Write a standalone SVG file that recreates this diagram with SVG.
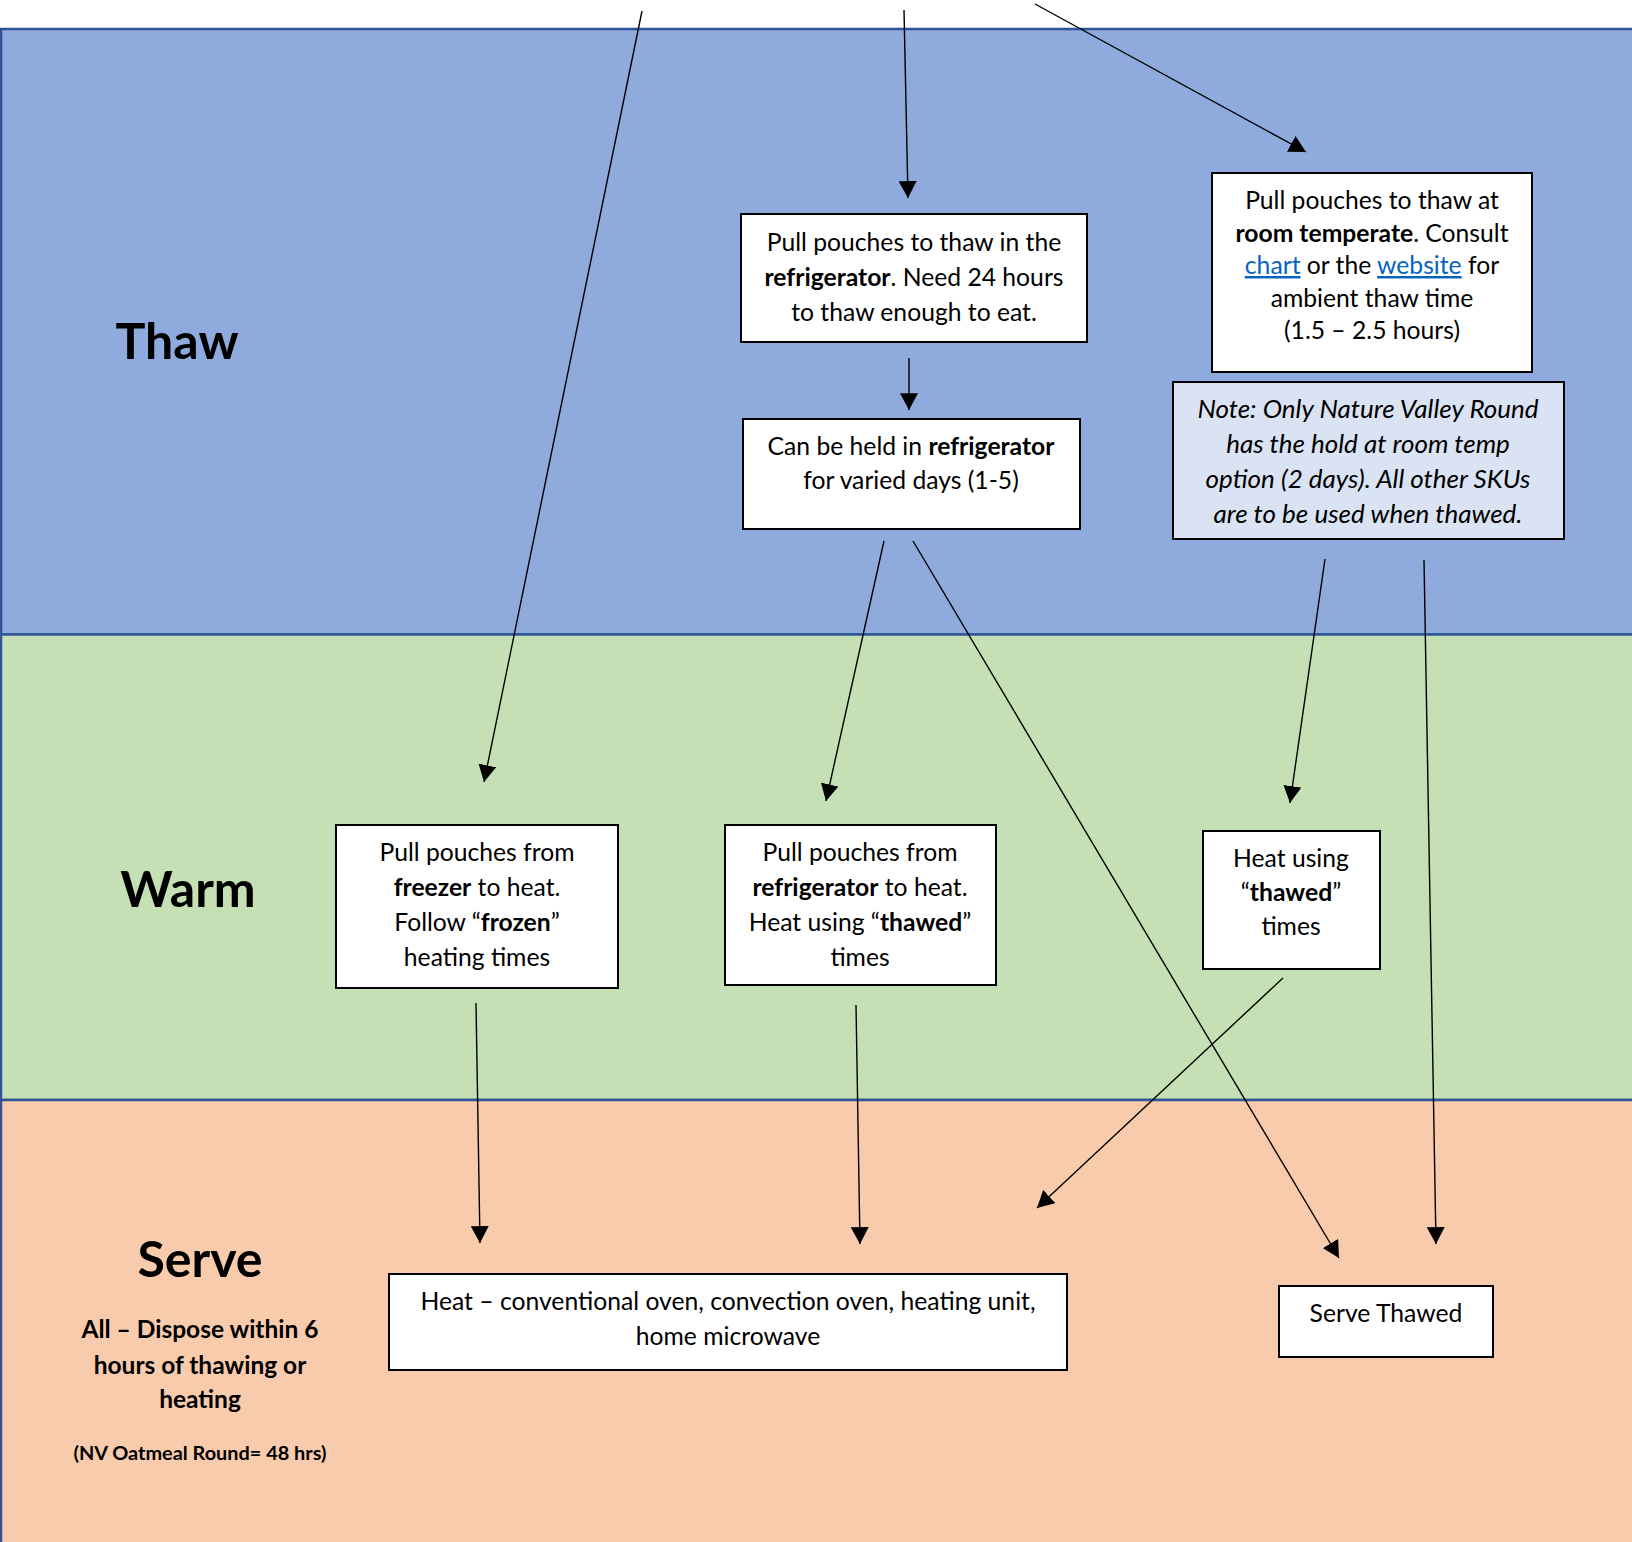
<svg xmlns="http://www.w3.org/2000/svg" width="1632" height="1542" viewBox="0 0 1632 1542">
<style>
.band{stroke:#2F5597;stroke-width:2.5}
.box{fill:#FFFFFF;stroke:#000;stroke-width:2}
.note{fill:#DAE3F3;stroke:#000;stroke-width:2}
text{font-family:Lato,"Liberation Sans",sans-serif;fill:#000}
.t{font-size:24.7px;text-anchor:middle}
.ti{font-size:26px;text-anchor:middle;font-style:italic}
.h{font-size:50px;font-weight:bold;text-anchor:middle}
.s{font-size:24.5px;font-weight:bold;text-anchor:middle}
.xs{font-size:19.9px;font-weight:bold;text-anchor:middle}
.b{font-weight:bold}
.lnk{fill:#0563C1;text-decoration:underline}
.con line{stroke:#000;stroke-width:1.4;marker-end:url(#ah)}
</style>
<defs>
<marker id="ah" markerUnits="userSpaceOnUse" markerWidth="18" markerHeight="18" viewBox="0 0 16 16" refX="15" refY="8" orient="auto">
<path d="M0,0 L15,8 L0,16 Z" fill="#000"/>
</marker>
</defs>
<rect x="0" y="0" width="1632" height="1542" fill="#FFFFFF"/>
<g id="bands">
<rect class="band" x="1" y="29" width="1640" height="605.5" fill="#8FAADC"/>
<rect class="band" x="1" y="634.5" width="1640" height="465.5" fill="#C5E0B4"/>
<rect class="band" x="1" y="1100" width="1640" height="460" fill="#F8CBAD"/>
</g>
<g id="labels">
<text class="h" x="177" y="359">Thaw</text>
<text class="h" x="188" y="907">Warm</text>
<text class="h" x="200" y="1277">Serve</text>
<text class="s" x="200" y="1338">All – Dispose within 6</text>
<text class="s" x="200" y="1374">hours of thawing or</text>
<text class="s" x="200" y="1408">heating</text>
<text class="xs" x="200" y="1460">(NV Oatmeal Round= 48 hrs)</text>
</g>
<g id="connectors" class="con">
<line x1="642" y1="11" x2="484" y2="782"/>
<line x1="904" y1="10" x2="908" y2="198"/>
<line x1="1035" y1="4" x2="1306" y2="152"/>
<line x1="909" y1="358" x2="909" y2="410"/>
<line x1="884" y1="541" x2="826" y2="801"/>
<line x1="913" y1="541" x2="1339" y2="1258"/>
<line x1="1325" y1="559" x2="1290" y2="803"/>
<line x1="1424" y1="560" x2="1436" y2="1244"/>
<line x1="476" y1="1003" x2="480" y2="1243"/>
<line x1="856" y1="1005" x2="860" y2="1244"/>
<line x1="1283" y1="978" x2="1037" y2="1208"/>
</g>
<g id="node-thaw-fridge">
<rect class="box" x="741" y="214" width="346" height="128"/>
<text class="t" x="914" y="251">Pull pouches to thaw in the</text>
<text class="t" x="914" y="286"><tspan class="b">refrigerator</tspan>. Need 24 hours</text>
<text class="t" x="914" y="321">to thaw enough to eat.</text>
</g>
<g id="node-hold-fridge">
<rect class="box" x="743" y="419" width="337" height="110"/>
<text class="t" x="911" y="455">Can be held in <tspan class="b">refrigerator</tspan></text>
<text class="t" x="911" y="489">for varied days (1-5)</text>
</g>
<g id="node-thaw-room">
<rect class="box" x="1212" y="173" width="320" height="199"/>
<text class="t" x="1372" y="209">Pull pouches to thaw at</text>
<text class="t" x="1372" y="241.5"><tspan class="b">room temperate</tspan>. Consult</text>
<text class="t" x="1372" y="274"><tspan class="lnk">chart</tspan> or the <tspan class="lnk">website</tspan> for</text>
<text class="t" x="1372" y="306.5">ambient thaw time</text>
<text class="t" x="1372" y="339">(1.5 – 2.5 hours)</text>
</g>
<g id="node-note">
<rect class="note" x="1173" y="382" width="391" height="157"/>
<text class="ti" x="1368" y="418">Note: Only Nature Valley Round</text>
<text class="ti" x="1368" y="453">has the hold at room temp</text>
<text class="ti" x="1368" y="488">option (2 days). All other SKUs</text>
<text class="ti" x="1368" y="523">are to be used when thawed.</text>
</g>
<g id="node-freezer">
<rect class="box" x="336" y="825" width="282" height="163"/>
<text class="t" x="477" y="861">Pull pouches from</text>
<text class="t" x="477" y="896"><tspan class="b">freezer</tspan> to heat.</text>
<text class="t" x="477" y="931">Follow “<tspan class="b">frozen</tspan>”</text>
<text class="t" x="477" y="966">heating times</text>
</g>
<g id="node-fridge-heat">
<rect class="box" x="725" y="825" width="271" height="160"/>
<text class="t" x="860" y="861">Pull pouches from</text>
<text class="t" x="860" y="896"><tspan class="b">refrigerator</tspan> to heat.</text>
<text class="t" x="860" y="931">Heat using “<tspan class="b">thawed</tspan>”</text>
<text class="t" x="860" y="966">times</text>
</g>
<g id="node-heat-thawed">
<rect class="box" x="1203" y="831" width="177" height="138"/>
<text class="t" x="1291" y="867">Heat using</text>
<text class="t" x="1291" y="901">“<tspan class="b">thawed</tspan>”</text>
<text class="t" x="1291" y="935">times</text>
</g>
<g id="node-heat">
<rect class="box" x="389" y="1274" width="678" height="96"/>
<text class="t" x="728" y="1310">Heat – conventional oven, convection oven, heating unit,</text>
<text class="t" x="728" y="1345">home microwave</text>
</g>
<g id="node-serve-thawed">
<rect class="box" x="1279" y="1286" width="214" height="71"/>
<text class="t" x="1386" y="1322">Serve Thawed</text>
</g>
</svg>
